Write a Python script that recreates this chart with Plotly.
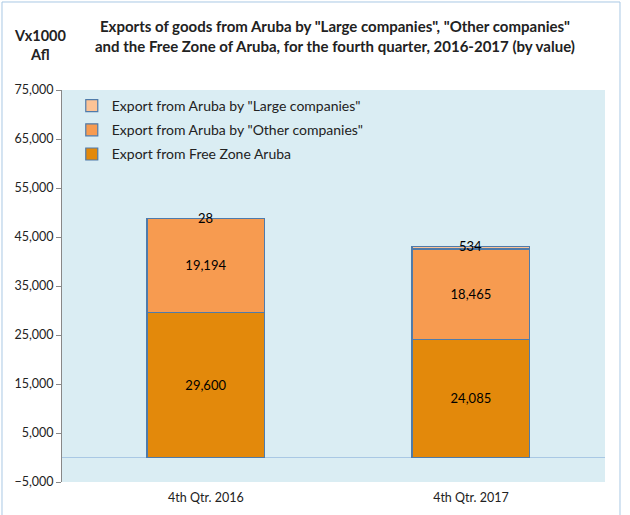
import plotly.graph_objects as go

categories = ["4th Qtr. 2016", "4th Qtr. 2017"]
free_zone = [29600, 24085]
other_companies = [19194, 18465]
large_companies = [28, 534]
y_ticks = [-5000, 5000, 15000, 25000, 35000, 45000, 55000, 65000, 75000]

font_family = "Lato, 'Open Sans', Arial, sans-serif"
edge = "#4F7BAA"

fig = go.Figure()
fig.add_trace(go.Bar(
    x=categories, y=free_zone, name="Export from Free Zone Aruba", legendgroup="c", legendrank=3,
    marker=dict(color="#E3890B", line=dict(color=edge, width=1.2)),
    text=[f"{v:,}" for v in free_zone], textposition="inside",
    insidetextanchor="middle", textfont=dict(color="black", size=13),
))
fig.add_trace(go.Bar(
    x=categories, y=other_companies, name='Export from Aruba by "Other companies"', legendgroup="b", legendrank=2,
    marker=dict(color="#F79B50", line=dict(color=edge, width=1.2)),
    text=[f"{v:,}" for v in other_companies], textposition="inside",
    insidetextanchor="middle", textfont=dict(color="black", size=13),
))
fig.add_trace(go.Bar(
    x=categories, y=large_companies, name='Export from Aruba by "Large companies"', legendgroup="a", legendrank=1,
    marker=dict(color="#FCC396", line=dict(color=edge, width=1.2)),
))

for i, c in enumerate(categories):
    top = free_zone[i] + other_companies[i] + large_companies[i]
    fig.add_annotation(x=c, y=top, text=f"{large_companies[i]:,}", showarrow=False,
                       yanchor="middle", font=dict(color="black", size=13, family=font_family))

fig.add_annotation(xref="paper", yref="paper", x=0.503, y=1.137, xanchor="center", yanchor="middle",
                   text='<b>Exports of goods from Aruba by "Large companies", "Other companies"<br>'
                        'and the Free Zone of Aruba, for the fourth quarter, 2016-2017 (by value)</b>',
                   showarrow=False, align="center", font=dict(size=15, color="#222", family=font_family))
fig.add_annotation(xref="paper", yref="paper", x=-0.041, y=1.115, xanchor="center", yanchor="middle",
                   text="<b>Vx1000<br>Afl</b>", showarrow=False, align="center",
                   font=dict(size=14.5, color="#222", family=font_family))

# outer frame
fig.add_shape(type="rect", xref="paper", yref="paper", x0=-0.1105, x1=1.0276, y0=-0.1, y1=1.2245,
              line=dict(color="#A9C8E4", width=1), fillcolor="rgba(0,0,0,0)", layer="below")

fig.update_layout(
    barmode="stack", bargap=0.555,
    width=630, height=515,
    margin=dict(l=62, r=25, t=90, b=33),
    paper_bgcolor="white", plot_bgcolor="#DAEDF3",
    font=dict(family=font_family, size=12, color="#222"),
    legend=dict(x=0.018, y=1.0, xanchor="left", yanchor="top", bgcolor="rgba(0,0,0,0)",
                traceorder="grouped", font=dict(size=14), itemwidth=30, tracegroupgap=3),
    yaxis=dict(range=[-5000, 75000], tickvals=y_ticks, tickformat=",", showgrid=False,
               zeroline=True, zerolinecolor="#A9C8E4", zerolinewidth=1,
               showline=True, linecolor="#888", ticks="outside", ticklen=5, tickcolor="#888",
               tickfont=dict(size=12.5)),
    xaxis=dict(range=[-0.543, 1.506], showline=False, showgrid=False, tickfont=dict(size=12.5),
               ticklabelstandoff=6, automargin=False),
    showlegend=True,
)

fig.write_html("out.html", post_script="document.body.style.margin='0';",
               config={"displayModeBar": False})
